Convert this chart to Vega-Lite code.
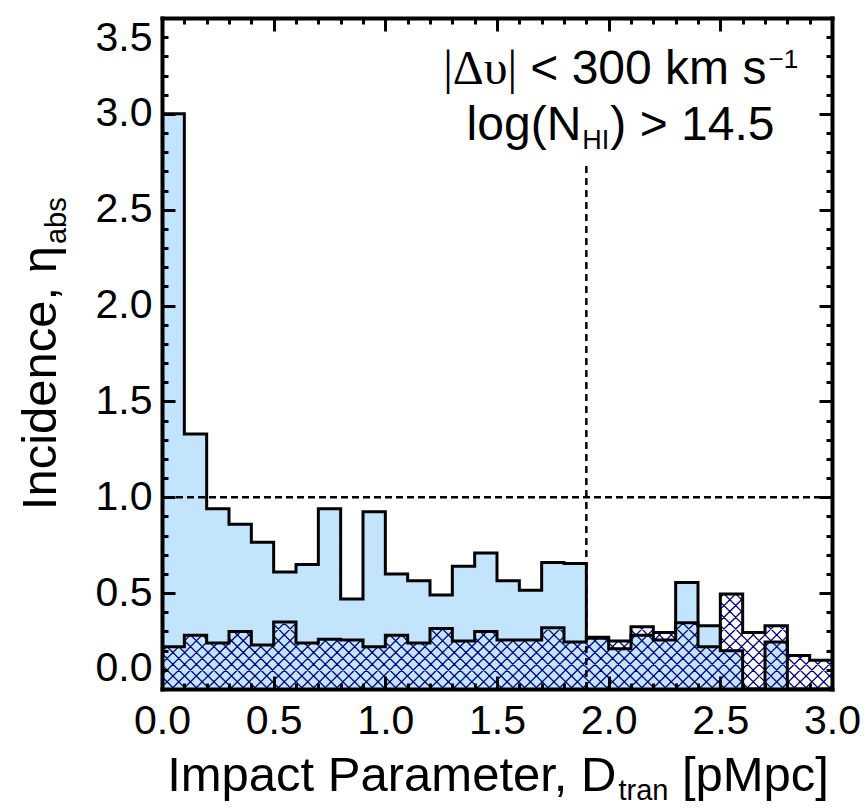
{
"$schema": "https://vega.github.io/schema/vega-lite/v6.json",
"width": 670, "height": 671,
"autosize": {"type": "none"},
"padding": {"left": 162, "top": 18, "right": 36, "bottom": 122},
"background": "white",
"config": {"view": {"stroke": null}, "axis": {"grid": false, "title": null}},
"data": {"values": [
{"lo":0.0,"hi":0.1,"outer":3.00,"hatched":0.22},
{"lo":0.1,"hi":0.2,"outer":1.33,"hatched":0.28},
{"lo":0.2,"hi":0.3,"outer":0.94,"hatched":0.24},
{"lo":0.3,"hi":0.4,"outer":0.86,"hatched":0.30},
{"lo":0.4,"hi":0.5,"outer":0.765,"hatched":0.23},
{"lo":0.5,"hi":0.6,"outer":0.61,"hatched":0.35},
{"lo":0.6,"hi":0.7,"outer":0.65,"hatched":0.24},
{"lo":0.7,"hi":0.8,"outer":0.94,"hatched":0.26},
{"lo":0.8,"hi":0.9,"outer":0.47,"hatched":0.255},
{"lo":0.9,"hi":1.0,"outer":0.925,"hatched":0.22},
{"lo":1.0,"hi":1.1,"outer":0.60,"hatched":0.28},
{"lo":1.1,"hi":1.2,"outer":0.565,"hatched":0.24},
{"lo":1.2,"hi":1.3,"outer":0.49,"hatched":0.315},
{"lo":1.3,"hi":1.4,"outer":0.64,"hatched":0.25},
{"lo":1.4,"hi":1.5,"outer":0.71,"hatched":0.30},
{"lo":1.5,"hi":1.6,"outer":0.565,"hatched":0.255},
{"lo":1.6,"hi":1.7,"outer":0.515,"hatched":0.255},
{"lo":1.7,"hi":1.8,"outer":0.66,"hatched":0.32},
{"lo":1.8,"hi":1.9,"outer":0.655,"hatched":0.245},
{"lo":1.9,"hi":2.0,"outer":0.27,"hatched":0.265},
{"lo":2.0,"hi":2.1,"outer":0.21,"hatched":0.25},
{"lo":2.1,"hi":2.2,"outer":0.28,"hatched":0.325},
{"lo":2.2,"hi":2.3,"outer":0.255,"hatched":0.295},
{"lo":2.3,"hi":2.4,"outer":0.555,"hatched":0.345},
{"lo":2.4,"hi":2.5,"outer":0.33,"hatched":0.22},
{"lo":2.5,"hi":2.6,"outer":0.20,"hatched":0.495},
{"lo":2.6,"hi":2.7,"outer":0.0,"hatched":0.295},
{"lo":2.7,"hi":2.8,"outer":0.245,"hatched":0.33},
{"lo":2.8,"hi":2.9,"outer":0.0,"hatched":0.175},
{"lo":2.9,"hi":3.0,"outer":0.0,"hatched":0.15}
]},
"resolve": {"scale": {"x": "shared", "y": "shared"}, "axis": {"x": "independent", "y": "independent"}},
"layer": [
{"mark": {"type": "rect", "fill": "#c2e5fd", "stroke": "#c2e5fd", "strokeWidth": 1},
 "encoding": {
  "x": {"field": "lo", "type": "quantitative", "scale": {"domain": [0,3], "nice": false, "zero": false},
        "axis": {"orient": "bottom", "values": [0,0.5,1,1.5,2,2.5,3], "format": ".1f", "ticks": false, "domain": true, "domainWidth": 4, "domainColor": "black", "domainCap": "square", "labelFont": "Liberation Sans", "labelFontSize": 41, "labelColor": "black", "labelPadding": 12, "labelFlush": false, "labelOverlap": false, "title": null, "grid": false, "zindex": 1}},
  "x2": {"field": "hi"},
  "y": {"field": "outer", "type": "quantitative", "scale": {"domain": [0,3.5], "nice": false, "zero": false},
        "axis": {"orient": "left", "values": [0,0.5,1,1.5,2,2.5,3,3.5], "format": ".1f", "ticks": false, "domain": true, "domainWidth": 4, "domainColor": "black", "domainCap": "square", "labelFont": "Liberation Sans", "labelFontSize": 41, "labelColor": "black", "labelPadding": 10, "labelFlush": true, "labelFlushOffset": 0, "labelOverlap": false, "title": null, "grid": false, "zindex": 1}},
  "y2": {"datum": 0}}},
{"data": {"values": [{}]},
 "mark": {"type": "point", "filled": false, "opacity": 1, "stroke": "#000080", "strokeWidth": 1.3, "size": 448900, "clip": true,
  "shape": "M0,-2l-4,4m4.035,-4l-4,4m4.035,-4l-4,4m4.035,-4l-4,4m4.035,-4l-4,4m4.035,-4l-4,4m4.035,-4l-4,4m4.035,-4l-4,4m4.035,-4l-4,4m4.035,-4l-4,4m4.035,-4l-4,4m4.035,-4l-4,4m4.035,-4l-4,4m4.035,-4l-4,4m4.035,-4l-4,4m4.035,-4l-4,4m4.035,-4l-4,4m4.035,-4l-4,4m4.035,-4l-4,4m4.035,-4l-4,4m4.035,-4l-4,4m4.035,-4l-4,4m4.035,-4l-4,4m4.035,-4l-4,4m4.035,-4l-4,4m4.035,-4l-4,4m4.035,-4l-4,4m4.035,-4l-4,4m4.035,-4l-4,4m4.035,-4l-4,4m4.035,-4l-4,4m4.035,-4l-4,4m4.035,-4l-4,4m4.035,-4l-4,4m4.035,-4l-4,4m4.035,-4l-4,4m4.035,-4l-4,4m4.035,-4l-4,4m4.035,-4l-4,4m4.035,-4l-4,4m4.035,-4l-4,4m4.035,-4l-4,4m4.035,-4l-4,4m4.035,-4l-4,4m4.035,-4l-4,4m4.035,-4l-4,4m4.035,-4l-4,4m4.035,-4l-4,4m4.035,-4l-4,4m4.035,-4l-4,4m4.035,-4l-4,4m4.035,-4l-4,4m4.035,-4l-4,4m4.035,-4l-4,4m4.035,-4l-4,4m4.035,-4l-4,4m4.035,-4l-4,4m4.035,-4l-4,4m4.035,-4l-4,4m4.035,-4l-4,4m4.035,-4l-4,4m4.035,-4l-4,4m4.035,-4l-4,4m4.035,-4l-4,4m4.035,-4l-4,4m4.035,-4l-4,4m4.035,-4l-4,4m4.035,-4l-4,4m4.035,-4l-4,4m4.035,-4l-4,4m4.035,-4l-4,4m4.035,-4l-4,4m4.035,-4l-4,4m4.035,-4l-4,4m4.035,-4l-4,4m4.035,-4l-4,4m4.035,-4l-4,4m4.035,-4l-4,4m4.035,-4l-4,4m4.035,-4l-4,4m4.035,-4l-4,4m4.035,-4l-4,4m4.035,-4l-4,4m4.035,-4l-4,4m4.035,-4l-4,4m4.035,-4l-4,4m4.035,-4l-4,4m4.035,-4l-4,4m4.035,-4l-4,4m4.035,-4l-4,4m4.035,-4l-4,4m4.035,-4l-4,4m4.035,-4l-4,4m4.035,-4l-4,4m4.035,-4l-4,4m4.035,-4l-4,4m4.035,-4l-4,4m4.035,-4l-4,4m4.035,-4l-4,4m4.035,-4l-4,4m4.035,-4l-4,4m4.035,-4l-4,4m4.035,-4l-4,4m4.035,-4l-4,4m4.035,-4l-4,4m4.035,-4l-4,4m4.035,-4l-4,4m4.035,-4l-4,4m4.035,-4l-4,4m4.035,-4l-4,4m4.035,-4l-4,4m4.035,-4l-4,4m4.035,-4l-4,4m4.035,-4l-4,4m4.035,-4l-4,4m4.035,-4l-4,4m4.035,-4l-4,4m4.035,-4l-4,4m4.035,-4l-4,4m4.035,-4l-4,4m4.035,-4l-4,4m4.035,-4l-4,4M-4,-2l4,4m-3.965,-4l4,4m-3.965,-4l4,4m-3.965,-4l4,4m-3.965,-4l4,4m-3.965,-4l4,4m-3.965,-4l4,4m-3.965,-4l4,4m-3.965,-4l4,4m-3.965,-4l4,4m-3.965,-4l4,4m-3.965,-4l4,4m-3.965,-4l4,4m-3.965,-4l4,4m-3.965,-4l4,4m-3.965,-4l4,4m-3.965,-4l4,4m-3.965,-4l4,4m-3.965,-4l4,4m-3.965,-4l4,4m-3.965,-4l4,4m-3.965,-4l4,4m-3.965,-4l4,4m-3.965,-4l4,4m-3.965,-4l4,4m-3.965,-4l4,4m-3.965,-4l4,4m-3.965,-4l4,4m-3.965,-4l4,4m-3.965,-4l4,4m-3.965,-4l4,4m-3.965,-4l4,4m-3.965,-4l4,4m-3.965,-4l4,4m-3.965,-4l4,4m-3.965,-4l4,4m-3.965,-4l4,4m-3.965,-4l4,4m-3.965,-4l4,4m-3.965,-4l4,4m-3.965,-4l4,4m-3.965,-4l4,4m-3.965,-4l4,4m-3.965,-4l4,4m-3.965,-4l4,4m-3.965,-4l4,4m-3.965,-4l4,4m-3.965,-4l4,4m-3.965,-4l4,4m-3.965,-4l4,4m-3.965,-4l4,4m-3.965,-4l4,4m-3.965,-4l4,4m-3.965,-4l4,4m-3.965,-4l4,4m-3.965,-4l4,4m-3.965,-4l4,4m-3.965,-4l4,4m-3.965,-4l4,4m-3.965,-4l4,4m-3.965,-4l4,4m-3.965,-4l4,4m-3.965,-4l4,4m-3.965,-4l4,4m-3.965,-4l4,4m-3.965,-4l4,4m-3.965,-4l4,4m-3.965,-4l4,4m-3.965,-4l4,4m-3.965,-4l4,4m-3.965,-4l4,4m-3.965,-4l4,4m-3.965,-4l4,4m-3.965,-4l4,4m-3.965,-4l4,4m-3.965,-4l4,4m-3.965,-4l4,4m-3.965,-4l4,4m-3.965,-4l4,4m-3.965,-4l4,4m-3.965,-4l4,4m-3.965,-4l4,4m-3.965,-4l4,4m-3.965,-4l4,4m-3.965,-4l4,4m-3.965,-4l4,4m-3.965,-4l4,4m-3.965,-4l4,4m-3.965,-4l4,4m-3.965,-4l4,4m-3.965,-4l4,4m-3.965,-4l4,4m-3.965,-4l4,4m-3.965,-4l4,4m-3.965,-4l4,4m-3.965,-4l4,4m-3.965,-4l4,4m-3.965,-4l4,4m-3.965,-4l4,4m-3.965,-4l4,4m-3.965,-4l4,4m-3.965,-4l4,4m-3.965,-4l4,4m-3.965,-4l4,4m-3.965,-4l4,4m-3.965,-4l4,4m-3.965,-4l4,4m-3.965,-4l4,4m-3.965,-4l4,4m-3.965,-4l4,4m-3.965,-4l4,4m-3.965,-4l4,4m-3.965,-4l4,4m-3.965,-4l4,4m-3.965,-4l4,4m-3.965,-4l4,4m-3.965,-4l4,4m-3.965,-4l4,4m-3.965,-4l4,4m-3.965,-4l4,4m-3.965,-4l4,4m-3.965,-4l4,4"},
 "encoding": {
  "x": {"datum": 1.5, "type": "quantitative", "scale": {"domain": [0,3], "nice": false, "zero": false},
        "axis": {"orient": "bottom", "values": [0,0.5,1,1.5,2,2.5,3], "labels": false, "domain": false, "ticks": true, "tickSize": -13, "tickWidth": 3, "tickColor": "black", "tickCap": "butt", "title": null, "grid": false, "zindex": 1}},
  "y": {"datum": 1.75, "type": "quantitative", "scale": {"domain": [0,3.5], "nice": false, "zero": false},
        "axis": {"orient": "left", "values": [0,0.5,1,1.5,2,2.5,3,3.5], "labels": false, "domain": false, "ticks": true, "tickSize": -13, "tickWidth": 3, "tickColor": "black", "tickCap": "butt", "title": null, "grid": false, "zindex": 1}}}},
{"mark": {"type": "rect", "fill": "white", "stroke": "white", "strokeWidth": 1.2},
 "encoding": {
  "x": {"field": "lo", "type": "quantitative", "scale": {"domain": [0,3], "nice": false, "zero": false},
        "axis": {"orient": "bottom", "values": [0.1,0.2,0.3,0.4,0.6,0.7,0.8,0.9,1.1,1.2,1.3,1.4,1.6,1.7,1.8,1.9,2.1,2.2,2.3,2.4,2.6,2.7,2.8,2.9], "labels": false, "domain": false, "ticks": true, "tickSize": -6, "tickWidth": 3, "tickColor": "black", "tickCap": "butt", "title": null, "grid": false, "zindex": 1}},
  "x2": {"field": "hi"},
  "y": {"field": "hatched", "type": "quantitative", "scale": {"domain": [0,3.5], "nice": false, "zero": false},
        "axis": {"orient": "left", "values": [0.1,0.2,0.3,0.4,0.6,0.7,0.8,0.9,1.1,1.2,1.3,1.4,1.6,1.7,1.8,1.9,2.1,2.2,2.3,2.4,2.6,2.7,2.8,2.9,3.1,3.2,3.3,3.4], "labels": false, "domain": false, "ticks": true, "tickSize": -6, "tickWidth": 3, "tickColor": "black", "tickCap": "butt", "title": null, "grid": false, "zindex": 1}},
  "y2": {"datum": 3.5}}},
{"transform": [{"filter": "datum.outer > datum.hatched"}],
 "mark": {"type": "rect", "fill": "#c2e5fd", "stroke": "#c2e5fd", "strokeWidth": 1.2},
 "encoding": {
  "x": {"field": "lo", "type": "quantitative", "scale": {"domain": [0,3], "nice": false, "zero": false},
        "axis": {"orient": "top", "values": [0,0.5,1,1.5,2,2.5,3], "labels": false, "domain": true, "domainWidth": 4, "domainColor": "black", "domainCap": "square", "ticks": true, "tickSize": -13, "tickWidth": 3, "tickColor": "black", "tickCap": "butt", "title": null, "grid": false, "zindex": 1}},
  "x2": {"field": "hi"},
  "y": {"field": "hatched", "type": "quantitative", "scale": {"domain": [0,3.5], "nice": false, "zero": false},
        "axis": {"orient": "right", "values": [0,0.5,1,1.5,2,2.5,3,3.5], "labels": false, "domain": true, "domainWidth": 4, "domainColor": "black", "domainCap": "square", "ticks": true, "tickSize": -13, "tickWidth": 3, "tickColor": "black", "tickCap": "butt", "title": null, "grid": false, "zindex": 1}},
  "y2": {"field": "outer"}}},
{"transform": [{"fold": ["lo", "hi"], "as": ["edge", "xe"]}, {"window": [{"op": "row_number", "as": "ord"}]}],
 "mark": {"type": "line", "color": "black", "strokeWidth": 3, "strokeJoin": "miter"},
 "encoding": {
  "x": {"field": "xe", "type": "quantitative", "scale": {"domain": [0,3], "nice": false, "zero": false},
        "axis": {"orient": "top", "values": [0.1,0.2,0.3,0.4,0.6,0.7,0.8,0.9,1.1,1.2,1.3,1.4,1.6,1.7,1.8,1.9,2.1,2.2,2.3,2.4,2.6,2.7,2.8,2.9], "labels": false, "domain": false, "ticks": true, "tickSize": -6, "tickWidth": 3, "tickColor": "black", "tickCap": "butt", "title": null, "grid": false, "zindex": 1}},
  "y": {"field": "outer", "type": "quantitative", "scale": {"domain": [0,3.5], "nice": false, "zero": false},
        "axis": {"orient": "right", "values": [0.1,0.2,0.3,0.4,0.6,0.7,0.8,0.9,1.1,1.2,1.3,1.4,1.6,1.7,1.8,1.9,2.1,2.2,2.3,2.4,2.6,2.7,2.8,2.9,3.1,3.2,3.3,3.4], "labels": false, "domain": false, "ticks": true, "tickSize": -6, "tickWidth": 3, "tickColor": "black", "tickCap": "butt", "title": null, "grid": false, "zindex": 1}},
  "order": {"field": "ord", "type": "quantitative"}}},
{"transform": [{"fold": ["lo", "hi"], "as": ["edge", "xe"]}, {"window": [{"op": "row_number", "as": "ord"}]}],
 "mark": {"type": "line", "color": "black", "strokeWidth": 3, "strokeJoin": "miter"},
 "encoding": {
  "x": {"field": "xe", "type": "quantitative", "scale": {"domain": [0,3], "nice": false, "zero": false}, "axis": null},
  "y": {"field": "hatched", "type": "quantitative", "scale": {"domain": [0,3.5], "nice": false, "zero": false}, "axis": null},
  "order": {"field": "ord", "type": "quantitative"}}},
{"data": {"values": [{}]},
 "mark": {"type": "rule", "color": "black", "strokeWidth": 2.5, "strokeDash": [7, 4]},
 "encoding": {
  "y": {"datum": 1, "type": "quantitative", "scale": {"domain": [0,3.5], "nice": false, "zero": false}, "axis": null}}},
{"data": {"values": [{}]},
 "mark": {"type": "rule", "color": "black", "strokeWidth": 2.5, "strokeDash": [7, 5]},
 "encoding": {
  "x": {"datum": 1.9, "type": "quantitative", "scale": {"domain": [0,3], "nice": false, "zero": false}, "axis": null},
  "y": {"datum": 0, "type": "quantitative", "scale": {"domain": [0,3.5], "nice": false, "zero": false}, "axis": null},
  "y2": {"datum": 2.74}}},
{"data": {"values": [{}]},
 "mark": {"type": "text", "text": "|Δυ|", "font": "Liberation Serif", "fontSize": 48, "align": "right", "baseline": "alphabetic", "color": "black"},
 "encoding": {
  "x": {"datum": 1.5896, "type": "quantitative", "scale": {"domain": [0,3], "nice": false, "zero": false}, "axis": null},
  "y": {"datum": 3.156, "type": "quantitative", "scale": {"domain": [0,3.5], "nice": false, "zero": false}, "axis": null}}},
{"data": {"values": [{}]},
 "mark": {"type": "text", "text": "< 300 km s", "font": "Liberation Sans", "fontSize": 48, "align": "right", "baseline": "alphabetic", "color": "black"},
 "encoding": {
  "x": {"datum": 2.7063, "type": "quantitative", "scale": {"domain": [0,3], "nice": false, "zero": false}, "axis": null},
  "y": {"datum": 3.156, "type": "quantitative", "scale": {"domain": [0,3.5], "nice": false, "zero": false}, "axis": null}}},
{"data": {"values": [{}]},
 "mark": {"type": "text", "text": "−1", "font": "Liberation Sans", "fontSize": 26, "align": "left", "baseline": "alphabetic", "color": "black"},
 "encoding": {
  "x": {"datum": 2.7157, "type": "quantitative", "scale": {"domain": [0,3], "nice": false, "zero": false}, "axis": null},
  "y": {"datum": 3.237, "type": "quantitative", "scale": {"domain": [0,3.5], "nice": false, "zero": false}, "axis": null}}},
{"data": {"values": [{}]},
 "mark": {"type": "text", "text": "log(N", "font": "Liberation Sans", "fontSize": 48, "align": "right", "baseline": "alphabetic", "color": "black"},
 "encoding": {
  "x": {"datum": 1.8775, "type": "quantitative", "scale": {"domain": [0,3], "nice": false, "zero": false}, "axis": null},
  "y": {"datum": 2.864, "type": "quantitative", "scale": {"domain": [0,3.5], "nice": false, "zero": false}, "axis": null}}},
{"data": {"values": [{}]},
 "mark": {"type": "text", "text": "HI", "font": "Liberation Sans", "fontSize": 27, "align": "left", "baseline": "alphabetic", "color": "black"},
 "encoding": {
  "x": {"datum": 1.882, "type": "quantitative", "scale": {"domain": [0,3], "nice": false, "zero": false}, "axis": null},
  "y": {"datum": 2.817, "type": "quantitative", "scale": {"domain": [0,3.5], "nice": false, "zero": false}, "axis": null}}},
{"data": {"values": [{}]},
 "mark": {"type": "text", "text": ") > 14.5", "font": "Liberation Sans", "fontSize": 48, "align": "left", "baseline": "alphabetic", "color": "black"},
 "encoding": {
  "x": {"datum": 2.0074, "type": "quantitative", "scale": {"domain": [0,3], "nice": false, "zero": false}, "axis": null},
  "y": {"datum": 2.864, "type": "quantitative", "scale": {"domain": [0,3.5], "nice": false, "zero": false}, "axis": null}}},
{"data": {"values": [{}]},
 "mark": {"type": "text", "text": "Impact Parameter, D", "font": "Liberation Sans", "fontSize": 49, "align": "right", "baseline": "alphabetic", "color": "black"},
 "encoding": {
  "x": {"datum": 2.035, "type": "quantitative", "scale": {"domain": [0,3], "nice": false, "zero": false}, "axis": null},
  "y": {"datum": -0.532, "type": "quantitative", "scale": {"domain": [0,3.5], "nice": false, "zero": false}, "axis": null}}},
{"data": {"values": [{}]},
 "mark": {"type": "text", "text": "tran", "font": "Liberation Sans", "fontSize": 29, "align": "left", "baseline": "alphabetic", "color": "black"},
 "encoding": {
  "x": {"datum": 2.044, "type": "quantitative", "scale": {"domain": [0,3], "nice": false, "zero": false}, "axis": null},
  "y": {"datum": -0.579, "type": "quantitative", "scale": {"domain": [0,3.5], "nice": false, "zero": false}, "axis": null}}},
{"data": {"values": [{}]},
 "mark": {"type": "text", "text": "[pMpc]", "font": "Liberation Sans", "fontSize": 49, "align": "left", "baseline": "alphabetic", "color": "black"},
 "encoding": {
  "x": {"datum": 2.328, "type": "quantitative", "scale": {"domain": [0,3], "nice": false, "zero": false}, "axis": null},
  "y": {"datum": -0.532, "type": "quantitative", "scale": {"domain": [0,3.5], "nice": false, "zero": false}, "axis": null}}},
{"data": {"values": [{}]},
 "mark": {"type": "text", "text": "Incidence, η", "font": "Liberation Sans", "fontSize": 49, "angle": 270, "align": "right", "baseline": "alphabetic", "color": "black"},
 "encoding": {
  "x": {"datum": -0.4746, "type": "quantitative", "scale": {"domain": [0,3], "nice": false, "zero": false}, "axis": null},
  "y": {"datum": 2.311, "type": "quantitative", "scale": {"domain": [0,3.5], "nice": false, "zero": false}, "axis": null}}},
{"data": {"values": [{}]},
 "mark": {"type": "text", "text": "abs", "font": "Liberation Sans", "fontSize": 29, "angle": 270, "align": "left", "baseline": "alphabetic", "color": "black"},
 "encoding": {
  "x": {"datum": -0.430, "type": "quantitative", "scale": {"domain": [0,3], "nice": false, "zero": false}, "axis": null},
  "y": {"datum": 2.321, "type": "quantitative", "scale": {"domain": [0,3.5], "nice": false, "zero": false}, "axis": null}}}
]
}
